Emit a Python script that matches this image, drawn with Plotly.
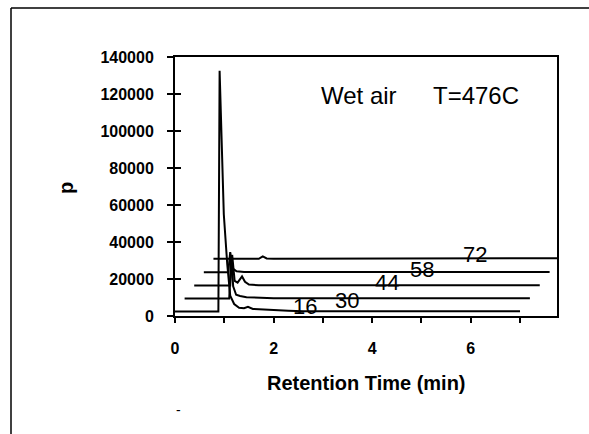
import plotly.graph_objects as go

# ---- data (display coordinates) ----
masses = ["16", "30", "44", "58", "72"]

t16 = [0, 0.88, 0.905, 0.99, 1.06, 1.12, 1.2, 1.3, 1.4, 1.48, 1.58, 1.75, 2.0, 2.3, 2.6, 7.0]
p16 = [2500, 2500, 132500, 55000, 28000, 11000, 6500, 4500, 4200, 5000, 3800, 3500, 3300, 2900, 2600, 2600]

t30 = [0.195, 1.10, 1.14, 1.18, 1.24, 1.32, 1.45, 1.7, 2.0, 7.2]
p30 = [9500, 9500, 33000, 16000, 11500, 10800, 10200, 9800, 9600, 9600]

t44 = [0.39, 1.12, 1.16, 1.21, 1.27, 1.31, 1.36, 1.42, 1.5, 1.7, 7.4]
p44 = [16500, 16500, 33000, 19000, 18000, 19500, 21400, 18500, 17000, 16600, 16600]

t58 = [0.585, 1.08, 1.12, 1.18, 1.25, 1.4, 7.6]
p58 = [23700, 23700, 34500, 25500, 24200, 23800, 23800]

t72 = [0.78, 1.7, 1.78, 1.86, 2.0, 7.75]
p72 = [30900, 30900, 32200, 31100, 31000, 31200]

label_x = [2.64, 3.48, 4.31, 5.02, 6.09]
label_y = [5200, 8400, 18100, 25000, 33000]

x_tickvals = [0, 1, 2, 3, 4, 5, 6, 7]
x_ticktext = ["0", "", "2", "", "4", "", "6", ""]
y_tickvals = [0, 20000, 40000, 60000, 80000, 100000, 120000, 140000]

series = [(t16, p16), (t30, p30), (t44, p44), (t58, p58), (t72, p72)]

FONT = "Liberation Sans, Arial"

fig = go.Figure()
for (tx, py), m in zip(series, masses):
    fig.add_trace(go.Scatter(x=tx, y=py, mode="lines", name=m,
                             line=dict(color="black", width=2),
                             showlegend=False, hoverinfo="skip"))
# invisible trace for the overlay axis (inside half of crossing ticks)
fig.add_trace(go.Scatter(x=[None], y=[None], yaxis="y2", showlegend=False))

for lx, ly, m in zip(label_x, label_y, masses):
    fig.add_annotation(x=lx, y=ly, text=m, showarrow=False,
                       xanchor="center", yanchor="middle",
                       font=dict(family=FONT, size=22, color="black"))

# plot-area pixel helpers (plot area spans x 175..557, y 57..316)
def px(x):
    return (x - 175) / 382

def py_(y):
    return (316 - y) / 259

def note(x, y, text, size, angle=0):
    fig.add_annotation(xref="paper", yref="paper", x=px(x), y=py_(y), text=text,
                       showarrow=False, xanchor="center", yanchor="middle",
                       textangle=angle, font=dict(family=FONT, size=size, color="black"))

note(359, 95, "Wet air", 24)
note(476, 95, "T=476C", 24)
note(366, 383, "<b>Retention Time (min)</b>", 20)
note(66, 188, "<b>p</b>", 20, -90)
note(178, 410, "-", 14)

# outer frame (top and left edges)
fig.add_shape(type="line", xref="paper", yref="paper", x0=px(11), y0=py_(8), x1=px(589), y1=py_(8),
              line=dict(color="black", width=1.5))
fig.add_shape(type="line", xref="paper", yref="paper", x0=px(11), y0=py_(8), x1=px(11), y1=py_(434),
              line=dict(color="black", width=1.5))

fig.update_layout(
    width=589, height=434,
    margin=dict(l=175, r=32, t=57, b=118),
    paper_bgcolor="white", plot_bgcolor="white",
    font=dict(family=FONT, color="black"),
    xaxis=dict(range=[0, 7.75], tickmode="array", tickvals=x_tickvals, ticktext=x_ticktext,
               ticks="outside", ticklen=5, tickwidth=1.5, tickcolor="black",
               showline=True, linecolor="black", linewidth=2, mirror=True,
               showgrid=False, zeroline=False, ticklabelstandoff=12,
               tickfont=dict(family=FONT, size=16, color="black", weight="bold")),
    yaxis=dict(range=[0, 140000], tickmode="array", tickvals=y_tickvals,
               ticktext=[str(v) for v in y_tickvals],
               ticks="outside", ticklen=6, tickwidth=1.5, tickcolor="black",
               showline=True, linecolor="black", linewidth=2, mirror=True,
               showgrid=False, zeroline=False, ticklabelstandoff=10,
               tickfont=dict(family=FONT, size=16, color="black", weight="bold")),
    yaxis2=dict(range=[0, 140000], overlaying="y", side="left", tickmode="array",
                tickvals=y_tickvals, ticks="inside", ticklen=6, tickwidth=1.5, tickcolor="black",
                showticklabels=False, showgrid=False, zeroline=False, showline=False),
)

fig.write_html("out.html", config={"displayModeBar": False},
               post_script="document.body.style.margin='0';document.body.style.overflow='hidden';")
